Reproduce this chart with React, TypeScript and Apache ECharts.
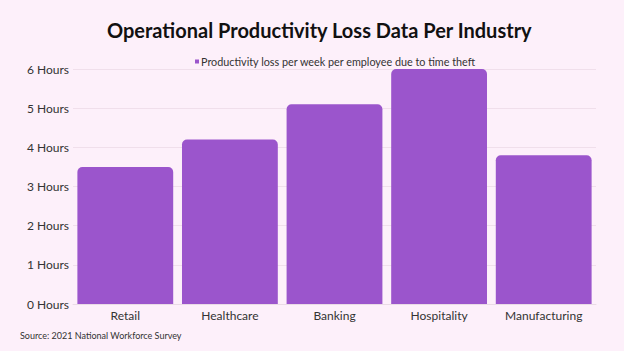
import React, { useEffect, useRef } from "react";
import * as echarts from "echarts";

const categories = ["Retail", "Healthcare", "Banking", "Hospitality", "Manufacturing"];
const lossHours = [3.5, 4.2, 5.1, 6, 3.8];
const seriesName = "Productivity loss per week per employee due to time theft";
const titleText = "Operational Productivity Loss Data Per Industry";
const sourceText = "Source: 2021 National Workforce Survey";

export default function App() {
  const ref = useRef<HTMLDivElement>(null);
  useEffect(() => {
    if (!ref.current) return;
    const chart = echarts.init(ref.current, null, { renderer: "svg" });
    chart.setOption({
      animation: false,
      backgroundColor: "#fdf0fa",
      textStyle: { fontFamily: "Lato" },
      title: {
        text: titleText,
        left: 102,
        top: 15,
        textStyle: { fontSize: 20, fontWeight: "bold", color: "#111", fontFamily: "Lato" },
      },
      legend: {
        top: 51,
        left: 190,
        icon: "rect",
        itemWidth: 4,
        itemHeight: 4,
        itemGap: 4,
        textStyle: { fontSize: 10.8, color: "#333", padding: [0, 0, 0, -3] },
        data: [seriesName],
      },
      grid: { left: 73, right: 28, top: 69, bottom: 47 },
      xAxis: {
        type: "category",
        data: categories,
        axisTick: { show: false },
        axisLine: { lineStyle: { color: "#eadbe6" } },
        axisLabel: { fontSize: 12, color: "#333", margin: 5 },
      },
      yAxis: {
        type: "value",
        min: 0,
        max: 6,
        interval: 1,
        axisLabel: { formatter: "{value} Hours", fontSize: 12, color: "#333", margin: 4 },
        splitLine: { lineStyle: { color: "#f0dfeb" } },
      },
      series: [
        {
          name: seriesName,
          type: "bar",
          data: lossHours,
          barCategoryGap: "8.4%",
          itemStyle: { color: "#9b55cc", borderRadius: [5, 5, 0, 0] },
        },
      ],
      graphic: [
        {
          type: "text",
          left: 20,
          top: 331,
          style: { text: sourceText, fontSize: 9, fill: "#333", fontFamily: "Lato" },
        },
      ],
    });
    return () => chart.dispose();
  }, []);
  return <div ref={ref} style={{ width: 624, height: 351, position: "absolute", left: 0, top: 0 }} />;
}
